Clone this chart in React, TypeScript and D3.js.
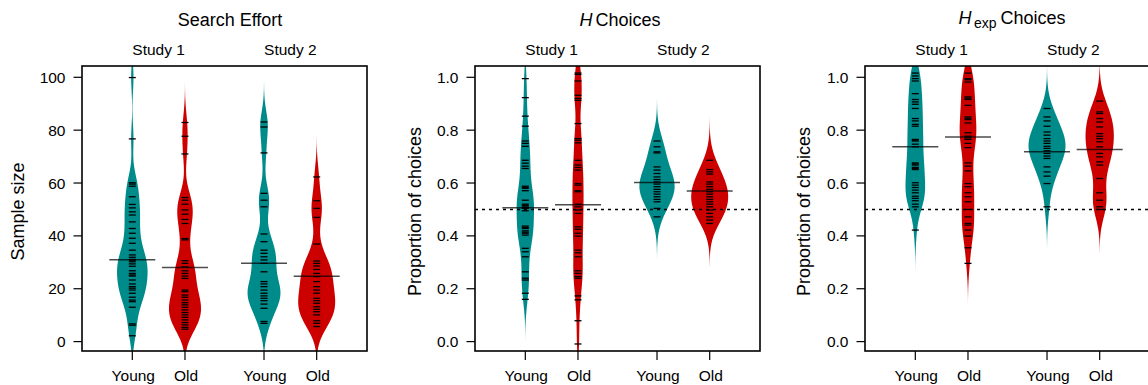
import React from "react";
import * as d3 from "d3";

const FONT = "'Liberation Sans', Arial, Helvetica, sans-serif";
const TEAL = "#008B8B";
const RED = "#CD0000";

const studyLabels = ["Study 1", "Study 2"];
const groupLabels = ["Young", "Old"];

// Search effort (sample size)
const effortYoung1 = [99.9, 76.7, 60.1, 59.6, 58.8, 54.8, 51.9, 50.6, 49.1, 47.9, 45.3, 42.8, 41.0, 39.1, 37.2, 34.6, 32.8, 31.9, 31.1, 30.8, 30.2, 29.4, 28.5, 26.8, 25.8, 25.2, 24.8, 23.3, 21.8, 20.8, 20.2, 19.5, 18.3, 16.8, 15.7, 15.1, 13.0, 6.7, 6.2, 2.2];
const effortOld1 = [82.9, 77.7, 71.0, 54.5, 53.5, 52.0, 49.8, 48.2, 46.2, 44.7, 39.0, 38.5, 30.6, 29.6, 28.3, 26.8, 25.8, 24.8, 23.9, 19.5, 18.9, 17.6, 16.8, 15.7, 14.7, 13.9, 13.0, 12.0, 11.0, 10.1, 9.2, 8.2, 7.2, 6.3, 5.4, 4.7];
const effortYoung2 = [83.1, 81.2, 71.4, 56.1, 53.5, 51.0, 40.7, 37.8, 34.6, 33.4, 32.1, 30.9, 29.6, 26.4, 22.7, 21.8, 20.8, 19.5, 18.3, 17.3, 16.4, 15.5, 14.2, 12.6, 7.6, 6.9];
const effortOld2 = [62.3, 53.3, 50.4, 47.0, 36.9, 30.5, 29.6, 28.6, 27.3, 25.8, 24.6, 22.7, 20.8, 19.5, 18.3, 16.4, 15.5, 14.5, 13.2, 12.2, 11.3, 10.1, 7.9, 6.9, 5.7];
const effortMeans = [31.0, 28.0, 29.6, 24.7];
const effortTicks = [0, 20, 40, 60, 80, 100];

// H choices (proportion)
const hYoung1 = [0.995, 0.923, 0.853, 0.815, 0.759, 0.75, 0.739, 0.686, 0.675, 0.664, 0.655, 0.588, 0.584, 0.58, 0.571, 0.535, 0.52, 0.516, 0.513, 0.508, 0.504, 0.495, 0.437, 0.432, 0.428, 0.419, 0.414, 0.41, 0.403, 0.353, 0.34, 0.321, 0.264, 0.24, 0.233, 0.183, 0.16];
const hOld1 = [1.016, 1.011, 0.986, 0.932, 0.92, 0.913, 0.825, 0.768, 0.762, 0.752, 0.686, 0.668, 0.659, 0.649, 0.598, 0.592, 0.571, 0.567, 0.52, 0.51, 0.498, 0.485, 0.434, 0.425, 0.41, 0.399, 0.346, 0.336, 0.321, 0.268, 0.258, 0.246, 0.24, 0.173, 0.158, 0.079, -0.009];
const hYoung2 = [0.759, 0.737, 0.718, 0.714, 0.661, 0.649, 0.636, 0.623, 0.613, 0.604, 0.596, 0.586, 0.576, 0.567, 0.558, 0.548, 0.538, 0.529, 0.504, 0.472];
const hOld2 = [0.686, 0.651, 0.642, 0.634, 0.604, 0.596, 0.586, 0.576, 0.567, 0.558, 0.548, 0.538, 0.529, 0.52, 0.51, 0.498, 0.485, 0.472, 0.46, 0.447];
const hMeans = [0.506, 0.518, 0.602, 0.57];

// H_exp choices (proportion)
const hexpYoung1 = [1.016, 1.005, 0.995, 0.986, 0.938, 0.916, 0.907, 0.898, 0.882, 0.844, 0.835, 0.822, 0.815, 0.765, 0.762, 0.759, 0.747, 0.737, 0.676, 0.672, 0.668, 0.659, 0.655, 0.651, 0.601, 0.592, 0.583, 0.573, 0.563, 0.55, 0.542, 0.533, 0.52, 0.51, 0.422];
const hexpOld1 = [1.016, 0.995, 0.991, 0.982, 0.926, 0.921, 0.916, 0.894, 0.85, 0.845, 0.84, 0.827, 0.79, 0.777, 0.771, 0.765, 0.75, 0.734, 0.676, 0.664, 0.646, 0.598, 0.586, 0.563, 0.548, 0.529, 0.5, 0.472, 0.447, 0.441, 0.422, 0.399, 0.355, 0.296];
const hexpYoung2 = [0.882, 0.85, 0.835, 0.815, 0.793, 0.781, 0.768, 0.759, 0.75, 0.739, 0.731, 0.722, 0.712, 0.702, 0.693, 0.661, 0.642, 0.626, 0.598, 0.51];
const hexpOld2 = [0.91, 0.869, 0.863, 0.844, 0.831, 0.812, 0.787, 0.777, 0.768, 0.756, 0.737, 0.712, 0.699, 0.68, 0.668, 0.617, 0.563, 0.535, 0.51, 0.5];
const hexpMeans = [0.737, 0.774, 0.718, 0.727];

const propTicks = [0, 0.2, 0.4, 0.6, 0.8, 1.0];
const chanceLevel = 0.5;

const TOP = 66;
const BOTTOM = 351;
const BOX_W = 285;
const MAX_HALF = 18.5;

type Panel = {
  left: number;
  titleX: number;
  titleY: number;
  title: React.ReactNode;
  yLabel: string;
  yLabelX: number;
  domain: [number, number];
  ticks: number[];
  fmt: (d: number) => string;
  bw: number;
  data: number[][];
  means: number[];
  ref: number | null;
};

const panels: Panel[] = [
  {
    left: 82,
    titleX: 230,
    titleY: 26,
    title: "Search Effort",
    yLabel: "Sample size",
    yLabelX: 24,
    domain: [0, 100],
    ticks: effortTicks,
    fmt: (d) => String(d),
    bw: 5.2,
    data: [effortYoung1, effortOld1, effortYoung2, effortOld2],
    means: effortMeans,
    ref: null,
  },
  {
    left: 475,
    titleX: 620,
    titleY: 26,
    title: (
      <>
        <tspan fontStyle="italic">H</tspan>
        <tspan dx={3}>Choices</tspan>
      </>
    ),
    yLabel: "Proportion of choices",
    yLabelX: 420.5,
    domain: [0, 1],
    ticks: propTicks,
    fmt: (d) => d3.format(".1f")(d),
    bw: 0.055,
    data: [hYoung1, hOld1, hYoung2, hOld2],
    means: hMeans,
    ref: chanceLevel,
  },
  {
    left: 865,
    titleX: 1012,
    titleY: 23.5,
    title: (
      <>
        <tspan fontStyle="italic">H</tspan>
        <tspan dx={2.5} dy={4} fontSize={14}>exp</tspan>
        <tspan dx={4} dy={-4}>Choices</tspan>
      </>
    ),
    yLabel: "Proportion of choices",
    yLabelX: 810,
    domain: [0, 1],
    ticks: propTicks,
    fmt: (d) => d3.format(".1f")(d),
    bw: 0.055,
    data: [hexpYoung1, hexpOld1, hexpYoung2, hexpOld2],
    means: hexpMeans,
    ref: chanceLevel,
  },
];

function kde(values: number[], bw: number, lo: number, hi: number, n = 400): [number, number][] {
  const out: [number, number][] = [];
  const c = 1 / (Math.sqrt(2 * Math.PI) * bw * values.length);
  for (let i = 0; i <= n; i++) {
    const v = lo + ((hi - lo) * i) / n;
    let s = 0;
    for (const x of values) {
      const z = (v - x) / bw;
      s += Math.exp(-0.5 * z * z);
    }
    out.push([v, s * c]);
  }
  return out;
}

function PanelView({ p, idx }: { p: Panel; idx: number }) {
  const x = d3.scaleLinear().domain([0.045, 5.455]).range([p.left, p.left + BOX_W]);
  const y = d3.scaleLinear().domain(p.domain).range([341.6, 77.3]);
  const pos = (i: number) => Math.floor(i / 2) * 2.5 + (i % 2) + 1;
  const dens = p.data.map((vals) => {
    const lo = d3.min(vals)! - 3 * p.bw;
    const hi = d3.max(vals)! + 3 * p.bw;
    return kde(vals, p.bw, lo, hi);
  });
  const maxD = d3.max(dens, (d) => d3.max(d, (e) => e[1])!)!;
  const k = MAX_HALF / maxD;
  const clipId = `clip-${idx}`;
  const colors = [TEAL, RED, TEAL, RED];
  const midY = (TOP + BOTTOM) / 2 + 3;
  return (
    <g>
      <defs>
        <clipPath id={clipId}>
          <rect x={p.left} y={TOP} width={BOX_W} height={BOTTOM - TOP} />
        </clipPath>
      </defs>
      <text x={p.titleX} y={p.titleY} textAnchor="middle" fontSize={18}>
        {p.title}
      </text>
      {studyLabels.map((s, i) => (
        <text key={s} x={x(i * 2.5 + 1.5)} y={55} textAnchor="middle" fontSize={15.5}>
          {s}
        </text>
      ))}
      <g clipPath={`url(#${clipId})`}>
        {dens.map((d, i) => {
          const cx = x(pos(i));
          const area = d3
            .area<[number, number]>()
            .x0((e) => cx - k * e[1])
            .x1((e) => cx + k * e[1])
            .y((e) => y(e[0]));
          return <path key={i} d={area(d)!} fill={colors[i]} stroke="none" />;
        })}
        {p.data.map((vals, i) => {
          const cx = x(pos(i));
          return (
            <g key={i}>
              {vals.map((v, j) => (
                <line key={j} x1={cx - 3.5} x2={cx + 3.5} y1={y(v)} y2={y(v)} stroke="#000" strokeWidth={1.3} />
              ))}
            </g>
          );
        })}
        {p.means.map((m, i) => {
          const cx = x(pos(i));
          return (
            <line key={i} x1={cx - 23} x2={cx + 23} y1={y(m)} y2={y(m)} stroke="rgba(0,0,0,0.7)" strokeWidth={1.5} />
          );
        })}
        {p.ref !== null && (
          <line x1={p.left} x2={p.left + BOX_W} y1={y(p.ref)} y2={y(p.ref)} stroke="#000" strokeWidth={1.4} strokeDasharray="3,4" />
        )}
      </g>
      <rect x={p.left} y={TOP} width={BOX_W} height={BOTTOM - TOP} fill="none" stroke="#000" strokeWidth={1.6} />
      {p.ticks.map((t) => (
        <g key={t}>
          <line x1={p.left - 8.5} x2={p.left} y1={y(t)} y2={y(t)} stroke="#000" strokeWidth={1.2} />
          <text x={p.left - 16.5} y={y(t)} dy="0.36em" textAnchor="end" fontSize={15.5}>
            {p.fmt(t)}
          </text>
        </g>
      ))}
      {[0, 1, 2, 3].map((i) => {
        const cx = x(pos(i));
        return (
          <g key={i}>
            <line x1={cx} x2={cx} y1={BOTTOM} y2={BOTTOM + 9} stroke="#000" strokeWidth={1.2} />
            <text x={cx + 1} y={381} textAnchor="middle" fontSize={15.5}>
              {groupLabels[i % 2]}
            </text>
          </g>
        );
      })}
      <text
        transform={`translate(${p.yLabelX},${midY}) rotate(-90)`}
        textAnchor="middle"
        fontSize={18}
      >
        {p.yLabel}
      </text>
    </g>
  );
}

export default function App() {
  return (
    <svg
      width={1148}
      height={385}
      style={{ position: "absolute", left: 0, top: 0, background: "#fff" }}
      fontFamily={FONT}
      fill="#000"
    >
      <rect x={0} y={0} width={1148} height={385} fill="#fff" />
      {panels.map((p, i) => (
        <PanelView key={i} p={p} idx={i} />
      ))}
    </svg>
  );
}
